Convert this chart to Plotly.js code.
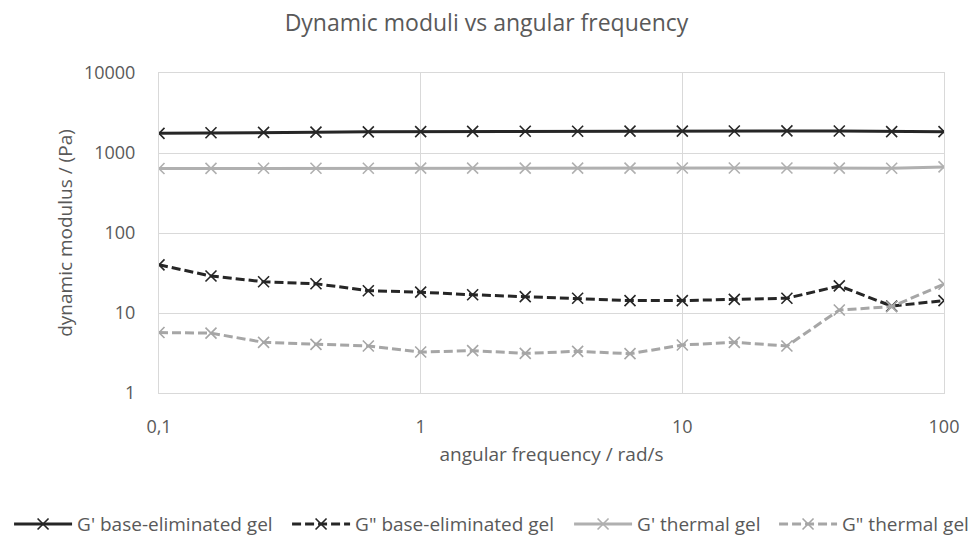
<!DOCTYPE html>
<html>
<head>
<meta charset="utf-8">
<script src="https://cdn.plot.ly/plotly-3.0.1.min.js"></script>
<style>html,body{margin:0;padding:0;background:#fff;}#chart{width:973px;height:538px;}</style>
</head>
<body>
<div id="chart"></div>
<script>
const freq = [0.1, 0.158, 0.251, 0.398, 0.631, 1, 1.58, 2.51, 3.98, 6.31, 10, 15.8, 25.1, 39.8, 63.1, 100];
const gPrimeBase = [1760, 1790, 1810, 1820, 1840, 1850, 1860, 1870, 1870, 1880, 1880, 1885, 1890, 1885, 1850, 1850];
const gDoubleBase = [40, 29, 24.6, 23.2, 19.0, 18.2, 16.9, 16.0, 15.3, 14.3, 14.3, 14.8, 15.3, 21.8, 12.2, 14.3];
const gPrimeThermal = [640, 642, 645, 645, 645, 648, 648, 648, 648, 648, 650, 650, 650, 648, 645, 670];
const gDoubleThermal = [5.7, 5.6, 4.3, 4.06, 3.87, 3.25, 3.38, 3.13, 3.32, 3.1, 3.98, 4.3, 3.87, 10.9, 12.0, 22.9];
const seriesNames = ["G' base-eliminated gel", 'G" base-eliminated gel', "G' thermal gel", 'G" thermal gel'];
const xTickVals = [0.1, 1, 10, 100];
const xTickText = ['0,1', '1', '10', '100'];
const yTickVals = [1, 10, 100, 1000, 10000];
const yTickText = ['1', '10', '100', '1000', '10000'];

const dark = '#262626';
const grey = '#a6a6a6';
const dashPat = '9px,4px';

function tr(y, name, color, dash, lw, leg) {
  return {
    x: freq, y: y, name: name, type: 'scatter', mode: 'lines+markers',
    line: {color: color, width: 3, dash: dash},
    marker: {symbol: 'x-thin-open', size: 11, line: {color: color, width: 1.6}, color: color},
    legendwidth: lw, legend: leg
  };
}

const data = [
  tr(gPrimeBase, seriesNames[0], dark, 'solid', 205, 'legend'),
  tr(gDoubleBase, seriesNames[1], dark, dashPat, 209, 'legend'),
  tr(gPrimeThermal, seriesNames[2], '#b0b0b0', 'solid', 132, 'legend'),
  tr(gDoubleThermal, seriesNames[3], grey, dashPat, 140, 'legend2')
];

const txt = '#595959';
const legFont = {size: 19, color: txt};
const layout = {
  width: 973, height: 538,
  paper_bgcolor: '#fff', plot_bgcolor: '#fff',
  font: {family: 'Open Sans, sans-serif', color: txt},
  separators: ',.',
  margin: {l: 159, r: 29, t: 73, b: 145, autoexpand: false},
  title: {text: 'Dynamic moduli vs angular frequency', font: {size: 23, color: txt}, x: 0.5, xref: 'container', xanchor: 'center', y: 0.958, yanchor: 'middle'},
  xaxis: {
    type: 'log', range: [-1, 2], tickvals: xTickVals, ticktext: xTickText,
    showgrid: true, gridcolor: '#d9d9d9', gridwidth: 1,
    showline: true, linecolor: '#d9d9d9', linewidth: 1, mirror: true,
    ticks: 'outside', ticklen: 17, tickcolor: 'rgba(0,0,0,0)',
    tickfont: {size: 18, color: txt},
    zeroline: false,
    title: {text: 'angular frequency / rad/s', font: {size: 19, color: txt}, standoff: 11}
  },
  yaxis: {
    type: 'log', range: [0, 4], tickvals: yTickVals, ticktext: yTickText,
    showgrid: true, gridcolor: '#d9d9d9', gridwidth: 1,
    showline: true, linecolor: '#d9d9d9', linewidth: 1, mirror: true,
    ticks: 'outside', ticklen: 19, tickcolor: 'rgba(0,0,0,0)',
    tickfont: {size: 18, color: txt},
    zeroline: false,
    title: {text: 'dynamic modulus / (Pa)', font: {size: 19, color: txt}, standoff: 6}
  },
  showlegend: true,
  legend: {
    orientation: 'h', x: -0.191, xanchor: 'left', y: -0.41, yanchor: 'middle',
    font: legFont, bgcolor: 'rgba(0,0,0,0)', itemwidth: 58
  },
  legend2: {
    orientation: 'h', x: 0.7835, xanchor: 'left', y: -0.41, yanchor: 'middle',
    font: legFont, bgcolor: 'rgba(0,0,0,0)', itemwidth: 58
  }
};

Plotly.newPlot('chart', data, layout, {displayModeBar: false, staticPlot: true});
</script>
</body>
</html>
